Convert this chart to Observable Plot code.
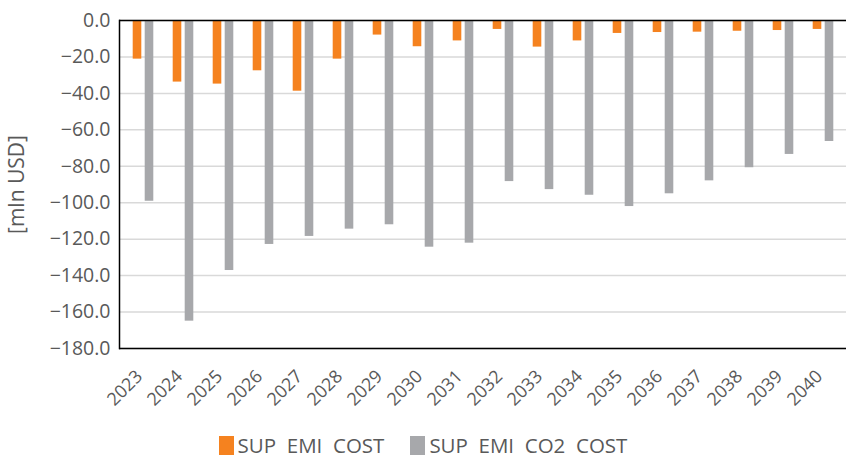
<!DOCTYPE html>
<html>
<head>
<meta charset="utf-8">
<script src="https://cdn.jsdelivr.net/npm/d3@7"></script>
<script src="https://cdn.jsdelivr.net/npm/@observablehq/plot@0.6"></script>
<style>
  body { margin: 0; background: #fff; }
  #wrap { position: relative; width: 846px; height: 461px; font-family: "Open Sans", sans-serif; }
  #legend { position: absolute; left: 0; width: 846px; top: 435px; height: 21px; line-height: 21px; display: flex; justify-content: center; gap: 26px; font-size: 20.5px; color: #595959; white-space: pre; }
  .item { display: flex; align-items: center; }
  .sw { width: 15px; height: 19px; margin-right: 4px; }
</style>
</head>
<body>
<div id="wrap"><div id="chart"></div><div id="legend"></div></div>
<script>
const years = ["2023","2024","2025","2026","2027","2028","2029","2030","2031","2032","2033","2034","2035","2036","2037","2038","2039","2040"];
const supEmiCost = [-21.2, -33.8, -34.9, -27.6, -38.8, -21.2, -8.0, -14.4, -11.2, -4.9, -14.6, -11.2, -7.1, -6.6, -6.4, -5.9, -5.5, -4.9];
const supEmiCo2Cost = [-99.2, -165.0, -137.2, -122.9, -118.5, -114.5, -112.1, -124.4, -122.2, -88.4, -92.8, -95.9, -102.1, -95.1, -88.0, -80.8, -73.5, -66.4];
const seriesNames = ["SUP  EMI  COST", "SUP  EMI  CO2  COST"];
const colors = ["#F5821F", "#A7A8AB"];
const yTicks = [0, -20, -40, -60, -80, -100, -120, -140, -160, -180];

const d1 = years.map((y, i) => ({year: y, v: supEmiCost[i]}));
const d2 = years.map((y, i) => ({year: y, v: supEmiCo2Cost[i]}));
const fmt = d3.format(".1f");

const chart = Plot.plot({
  width: 846, height: 415,
  marginLeft: 119, marginRight: 0, marginTop: 20, marginBottom: 67,
  style: {fontFamily: "'Open Sans', sans-serif", fontSize: "16px", color: "#595959", background: "#fff"},
  x: {domain: years, padding: 0},
  y: {domain: [-180, 0], ticks: yTicks, tickFormat: fmt},
  marks: [
    Plot.ruleY(yTicks, {stroke: "#d9d9d9", strokeWidth: 1.5}),
    Plot.barY(d1, {x: "year", y: "v", fill: colors[0], dx: -6, insetLeft: 15.7, insetRight: 15.7}),
    Plot.barY(d2, {x: "year", y: "v", fill: colors[1], dx: 6, insetLeft: 15.7, insetRight: 15.7}),
    Plot.ruleY([0, -180], {stroke: "#000", strokeWidth: 1.5}),
    Plot.frame({anchor: "left", stroke: "#000", strokeWidth: 1.5}),
    Plot.axisY({ticks: yTicks, tickFormat: fmt, tickSize: 0, tickPadding: 9, fontSize: 19.5, label: null}),
    Plot.axisY({ticks: [], label: "[mln USD]", labelAnchor: "center", labelOffset: 110, labelArrow: "none", fontSize: 21}),
    Plot.axisX({tickSize: 0, tickRotate: -45, tickPadding: 25, dx: -4, fontSize: 18, label: null})
  ]
});
document.getElementById("chart").appendChild(chart);

const legend = document.getElementById("legend");
seriesNames.forEach((n, i) => {
  const it = document.createElement("div"); it.className = "item";
  const sw = document.createElement("span"); sw.className = "sw"; sw.style.background = colors[i];
  const t = document.createElement("span"); t.textContent = n;
  it.appendChild(sw); it.appendChild(t); legend.appendChild(it);
});
</script>
</body>
</html>
